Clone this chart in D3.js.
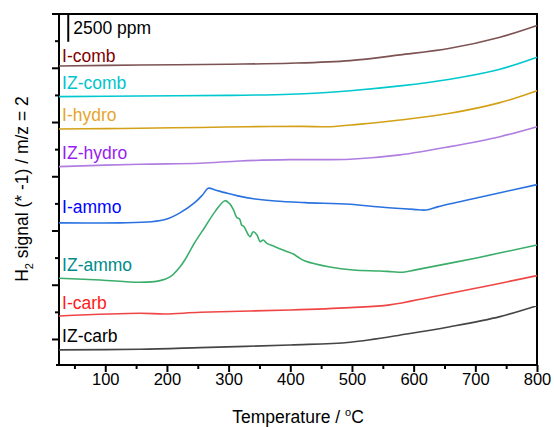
<!DOCTYPE html>
<html>
<head>
<meta charset="utf-8">
<script src="https://cdn.jsdelivr.net/npm/d3@7"></script>
<style>
body { margin: 0; background: #fff; }
text { font-family: Arial, "Liberation Sans", sans-serif; }
</style>
</head>
<body>
<svg id="chart" width="554" height="427"></svg>
<script>
// curves: [temperature in C, H2 signal (offset, ppm)]
const iComb = [[25,25170],[156,25260],[300,25330],[400,25420],[497,25660],[578,26190],[659,26800],[740,27820],[800,28900]];
const izComb = [[25,22340],[156,22400],[300,22460],[400,22560],[497,22890],[578,23330],[659,23950],[740,24870],[800,25970]];
const iHydro = [[25,19360],[100,19390],[156,19430],[254,19500],[330,19570],[420,19600],[465,19570],[510,19780],[578,20190],[659,20810],[740,21790],[800,22890]];
const izHydro = [[25,15890],[156,16110],[254,16200],[318,16410],[400,16530],[497,16570],[578,16970],[659,17730],[740,18650],[800,19570]];
const iAmmo = [[25,10700],[124,10700],[175,10800],[200,11050],[221,11620],[245,12570],[258,13300],[267,13900],[278,13740],[294,13490],[315,13190],[343,12910],[375,12720],[424,12570],[497,12420],[550,12140],[600,11950],[620,11890],[640,12200],[700,12980],[800,14230]];
const izAmmo = [[25,5600],[92,5440],[156,5230],[189,5380],[205,5720],[221,6640],[229,7280],[245,8880],[262,10350],[278,11740],[294,12750],[302,12450],[308,11890],[313,11220],[318,11040],[321,10510],[325,10350],[332,9590],[335,9430],[340,9890],[346,9590],[351,8970],[356,9130],[362,8820],[375,8510],[391,8140],[405,7840],[413,7530],[424,7190],[464,6640],[502,6360],[545,6270],[565,6200],[583,6150],[603,6370],[700,7450],[800,8670]];
const iCarb = [[25,2120],[156,2370],[197,2300],[254,2460],[400,2670],[497,2890],[561,3140],[631,3900],[713,4820],[800,5840]];
const izCarb = [[25,-1010],[156,-950],[254,-800],[400,-550],[497,-300],[589,460],[659,1130],[740,2060],[800,3070]];

const names = ["I-comb", "IZ-comb", "I-hydro", "IZ-hydro", "I-ammo", "IZ-ammo", "I-carb", "IZ-carb"];
const labelValues = [25540, 23050, 20100, 16600, 11570, 6270, 2770, -280];
const lineColors = ["#7d5252", "#00c8cf", "#d4a017", "#b07ee0", "#2a72e0", "#3aae6a", "#f04545", "#454545"];
const textColors = ["#800000", "#00c4cc", "#e6a52c", "#9a1cf0", "#0000ff", "#008b8b", "#ff1a1a", "#000000"];
const allSeries = [iComb, izComb, iHydro, izHydro, iAmmo, izAmmo, iCarb, izCarb];

const xMajor = [100, 200, 300, 400, 500, 600, 700, 800];
const xMinor = [50, 150, 250, 350, 450, 550, 650, 750];
const yMajor = [0, 5000, 10000, 15000, 20000, 25000];
const yMinor = [2500, 7500, 12500, 17500, 22500, 27500];
const scaleBar = [40, 27400, 29900];

const pLeft = 59, pRight = 537, pTop = 14, pBottom = 365;
const svg = d3.select("#chart");

let x = d3.scaleLinear().domain([25, 800]).range([pLeft, pRight]);
let y = d3.scaleLinear().domain([-2400, 29960]).range([pBottom, pTop]);

// ticks
let gx = svg.append("g").attr("transform", "translate(0," + pBottom + ")");
gx.call(d3.axisBottom(x).tickValues(xMajor).tickSize(7).tickSizeOuter(0).tickFormat(d3.format("d")));
let gxm = svg.append("g").attr("transform", "translate(0," + pBottom + ")");
gxm.call(d3.axisBottom(x).tickValues(xMinor).tickSize(4).tickSizeOuter(0).tickFormat(""));
let gy = svg.append("g").attr("transform", "translate(" + pLeft + ",0)");
gy.call(d3.axisLeft(y).tickValues(yMajor).tickSize(7).tickSizeOuter(0).tickFormat(""));
let gym = svg.append("g").attr("transform", "translate(" + pLeft + ",0)");
gym.call(d3.axisLeft(y).tickValues(yMinor).tickSize(4).tickSizeOuter(0).tickFormat(""));

svg.selectAll(".domain").remove();
svg.selectAll(".tick line").attr("stroke", "#000").attr("stroke-width", 2);
gx.selectAll(".tick text")
    .attr("font-size", "16.5px")
    .attr("fill", "#000")
    .attr("dy", null)
    .attr("y", 20);

// frame
let frame = svg.append("g").attr("stroke", "#000").attr("stroke-width", 2).attr("fill", "none");
frame.append("line").attr("x1", pLeft - 3).attr("x2", pRight + 1).attr("y1", pBottom).attr("y2", pBottom);
frame.append("line").attr("x1", pLeft).attr("x2", pLeft).attr("y1", pTop - 1).attr("y2", pBottom + 1);
frame.append("line").attr("x1", pLeft - 7).attr("x2", pRight + 1).attr("y1", pTop).attr("y2", pTop);
frame.append("line").attr("x1", pRight).attr("x2", pRight).attr("y1", pTop - 1).attr("y2", pBottom + 1);

// curves
let line = d3.line()
    .x(function (d) { return x(d[0]); })
    .y(function (d) { return y(d[1]); })
    .curve(d3.curveCatmullRom.alpha(0.5));

svg.append("g")
    .selectAll("path")
    .data(allSeries)
    .enter()
    .append("path")
    .attr("d", line)
    .attr("fill", "none")
    .attr("stroke", function (d, i) { return lineColors[i]; })
    .attr("stroke-width", 1.6);

// labels
svg.append("g")
    .selectAll("text")
    .data(names)
    .enter()
    .append("text")
    .attr("x", x(30))
    .attr("y", function (d, i) { return y(labelValues[i]); })
    .attr("font-size", "17.5px")
    .attr("fill", function (d, i) { return textColors[i]; })
    .text(function (d) { return d; });

// scale bar
svg.append("line")
    .attr("x1", x(scaleBar[0])).attr("x2", x(scaleBar[0]))
    .attr("y1", y(scaleBar[1])).attr("y2", y(scaleBar[2]))
    .attr("stroke", "#000").attr("stroke-width", 2);
svg.append("text")
    .attr("x", x(scaleBar[0]) + 5)
    .attr("y", y(scaleBar[1]) - 8)
    .attr("font-size", "17.5px")
    .text("2500 ppm");

// axis titles
let xt = svg.append("text")
    .attr("x", (pLeft + pRight) / 2)
    .attr("y", 423)
    .attr("text-anchor", "middle")
    .attr("font-size", "17.5px");
xt.append("tspan").text("Temperature / ");
xt.append("tspan").attr("font-size", "11px").attr("dy", -7).text("o");
xt.append("tspan").attr("dy", 7).text("C");

let yt = svg.append("text")
    .attr("transform", "translate(28,189) rotate(-90)")
    .attr("text-anchor", "middle")
    .attr("font-size", "17.5px");
yt.append("tspan").text("H");
yt.append("tspan").attr("font-size", "11px").attr("dy", 5).text("2");
yt.append("tspan").attr("dy", -5).text(" signal (* -1) / m/z = 2");
</script>
</body>
</html>
